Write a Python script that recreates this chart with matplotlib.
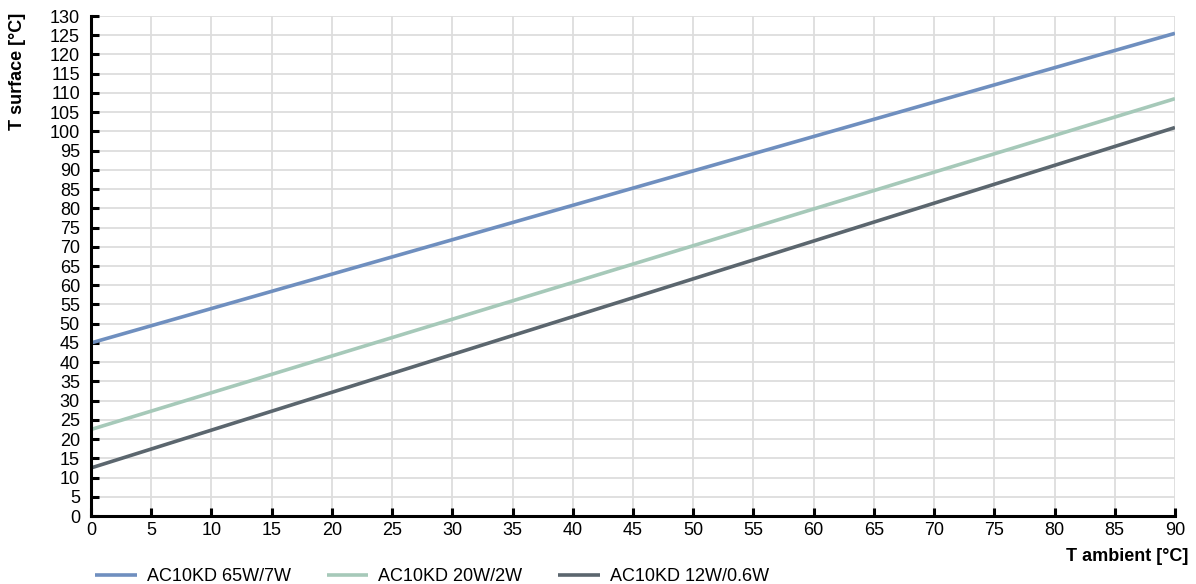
import matplotlib.pyplot as plt

plt.rcParams["font.family"] = ["Liberation Sans", "DejaVu Sans"]

# Data (straight lines, endpoint values)
t_ambient = [0, 90]
s_65w = [45.0, 125.5]
s_20w = [22.5, 108.5]
s_12w = [12.5, 101.0]

labels = ["AC10KD 65W/7W", "AC10KD 20W/2W", "AC10KD 12W/0.6W"]
colors = ["#6f8fbf", "#a6c9b9", "#5b666e"]

fig = plt.figure(figsize=(11.96, 5.84), dpi=100)
ax = fig.add_axes([0.0761, 0.1164, 0.9063, 0.8562])

for ys, lab, col in zip([s_65w, s_20w, s_12w], labels, colors):
    ax.plot(t_ambient, ys, color=col, lw=2.6, label=lab, solid_capstyle="butt")

ax.set_xlim(0, 90)
ax.set_ylim(0, 130)
ax.set_xticks(range(0, 91, 5))
ax.set_yticks(range(0, 131, 5))
ax.grid(True, color="#dddddd", lw=1.3)
ax.set_axisbelow(True)

for side in ["top", "right"]:
    ax.spines[side].set_visible(False)
for side in ["left", "bottom"]:
    ax.spines[side].set_linewidth(2.2)
    ax.spines[side].set_color("black")

ax.tick_params(direction="in", length=6, width=2.2, labelsize=13)
ax.tick_params(axis="y", pad=8)
ax.tick_params(axis="x", pad=4)

# ylabel uses rotation_mode "anchor": ha/va are in the text's own frame
ax.set_ylabel("T surface [°C]", fontsize=13, fontweight="bold", ha="right", va="center")
ax.yaxis.set_label_coords(-0.068, 1.006)
ax.set_xlabel("T ambient [°C]", fontsize=13, fontweight="bold", ha="right")
ax.xaxis.set_label_coords(1.012, -0.064)

fig.legend(
    loc="center left",
    bbox_to_anchor=(0.066, 0.012),
    ncol=3,
    frameon=False,
    fontsize=13,
    handlelength=2.3,
    handletextpad=0.55,
    columnspacing=2.0,
)

fig.savefig("out.png", dpi=100)
